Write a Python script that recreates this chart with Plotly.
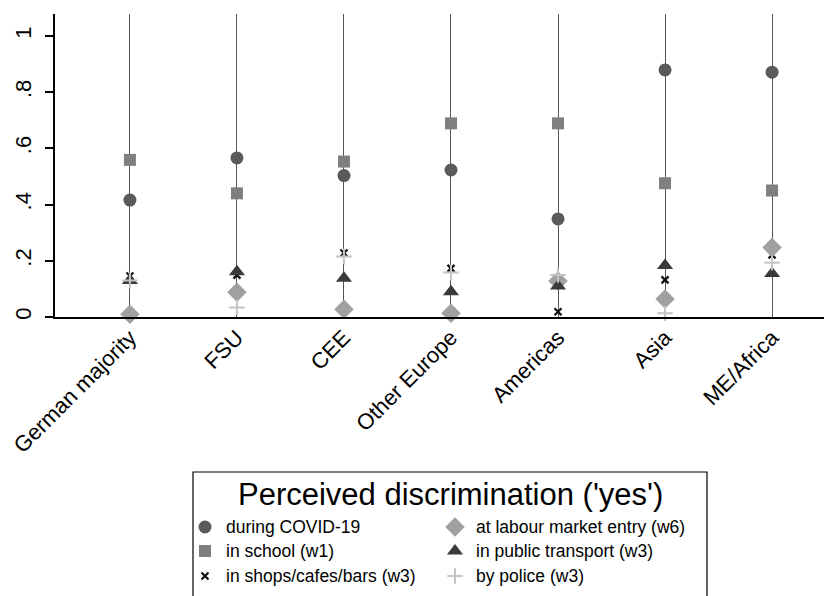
import plotly.graph_objects as go

categories = ["German majority", "FSU", "CEE", "Other Europe", "Americas", "Asia", "ME/Africa"]

covid = [0.416, 0.566, 0.503, 0.523, 0.349, 0.879, 0.871]
school = [0.559, 0.440, 0.553, 0.689, 0.689, 0.476, 0.450]
shops = [0.146, 0.149, 0.228, 0.173, 0.019, 0.132, 0.221]
labour = [0.010, 0.088, 0.028, 0.013, 0.128, 0.064, 0.247]
transport = [0.130, 0.161, 0.138, 0.090, 0.110, 0.183, 0.155]
police = [0.130, 0.034, 0.215, 0.158, 0.149, 0.013, 0.193]

series_names = ["during COVID-19", "in school (w1)", "in shops/cafes/bars (w3)",
                "at labour market entry (w6)", "in public transport (w3)", "by police (w3)"]
series_values = [covid, school, shops, labour, transport, police]

y_tickvals = [0, 0.2, 0.4, 0.6, 0.8, 1]
y_ticktext = ["0", ".2", ".4", ".6", ".8", "1"]

legend_title = "Perceived discrimination ('yes')"

styles = [
    dict(symbol="circle", size=13, color="#5a5a5a", line=dict(width=0)),
    dict(symbol="square", size=12, color="#7f7f7f", line=dict(width=0)),
    dict(symbol="x-thin-open", size=7, color="#111111", line=dict(width=2.2, color="#111111")),
    dict(symbol="diamond", size=15, color="#a0a0a0", line=dict(width=0)),
    dict(symbol="triangle-up", size=14, color="#3a3a3a", line=dict(width=0)),
    dict(symbol="cross-thin-open", size=11, color="#c4c4c4", line=dict(width=2, color="#c4c4c4")),
]

# page body has an 8px margin: figure is drawn 8px in from the top-left
OFF = 8
W, H = 832 - OFF, 596 - OFF
FONT = "Liberation Sans, Arial, sans-serif"

fig = go.Figure()
xs = list(range(len(categories)))
for name, vals, st in zip(series_names, series_values, styles):
    fig.add_trace(go.Scatter(x=xs, y=vals, mode="markers", name=name, marker=st,
                             showlegend=False, xaxis="x", yaxis="y", cliponaxis=False))

# legend markers on overlay pixel axes (reference pixel coordinates)
leg_x = [205, 205, 205, 455, 455, 455]
leg_y = [527, 551, 576, 527, 551, 576]
for i, (name, st) in enumerate(zip(series_names, styles)):
    fig.add_trace(go.Scatter(x=[leg_x[i] - OFF], y=[leg_y[i] - OFF], mode="markers", marker=st,
                             showlegend=False, xaxis="x2", yaxis="y2", hoverinfo="skip"))
    fig.add_annotation(x=leg_x[i] + 19 - OFF, y=leg_y[i] - OFF, xref="x2", yref="y2", text=name,
                       showarrow=False, xanchor="left", yanchor="middle",
                       font=dict(size=17.5, color="black", family=FONT))

fig.add_annotation(x=450 - OFF, y=494 - OFF, xref="x2", yref="y2", text=legend_title,
                   showarrow=False, xanchor="center", yanchor="middle",
                   font=dict(size=31, color="black", family=FONT))

fig.add_shape(type="rect", xref="x2", yref="y2", x0=193 - OFF, x1=707 - OFF,
              y0=472 - OFF, y1=610, line=dict(color="black", width=1.2),
              fillcolor="rgba(0,0,0,0)")

fig.update_layout(
    width=W, height=H,
    margin=dict(l=0, r=0, t=0, b=0, autoexpand=False),
    paper_bgcolor="white", plot_bgcolor="rgba(0,0,0,0)",
    font=dict(family=FONT, color="black"),
    xaxis=dict(domain=[(55 - OFF) / W, 1], range=[-0.70, 6.56], tickvals=xs, ticktext=categories,
               tickangle=-45, showgrid=True, gridcolor="#555555", gridwidth=1.3,
               showline=True, linecolor="black", linewidth=2, ticks="", zeroline=False,
               automargin=False, ticklabelstandoff=-3,
               tickfont=dict(size=22, color="black", family=FONT), anchor="y"),
    yaxis=dict(domain=[1 - (317 - OFF) / H, 1 - (14 - OFF) / H], range=[0, 1.078],
               tickvals=y_tickvals, ticktext=y_ticktext, tickangle=-90, showgrid=False,
               showline=True, linecolor="black", linewidth=2, ticks="outside", ticklen=8,
               tickwidth=1.5, tickcolor="black", zeroline=False, automargin=False,
               ticklabelstandoff=5,
               tickfont=dict(size=22, color="black", family=FONT), anchor="x"),
    xaxis2=dict(domain=[0, 1], range=[0, W], visible=False, anchor="y2", fixedrange=True,
                automargin=False),
    yaxis2=dict(domain=[0, 1], range=[H, 0], visible=False, anchor="x2", fixedrange=True,
                automargin=False),
)

fig.write_html("out.html")
